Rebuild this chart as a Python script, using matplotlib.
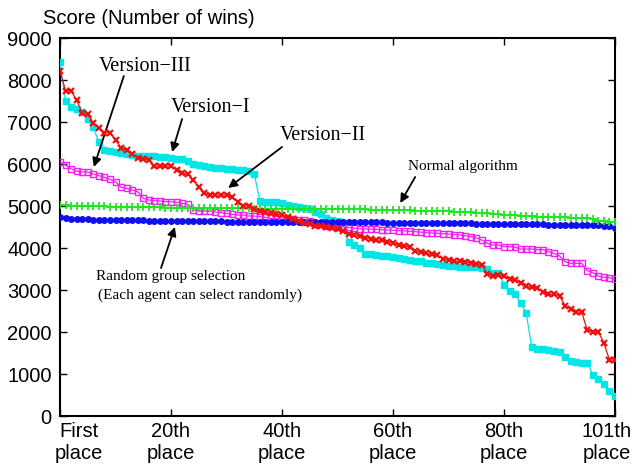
import matplotlib
matplotlib.use("Agg")
import matplotlib.pyplot as plt
import matplotlib.transforms as mtransforms

ranks = list(range(101))

version_1 = [8420, 7500, 7360, 7300, 7250, 7080, 6870, 6520, 6340, 6310,
             6290, 6260, 6230, 6210, 6200, 6195, 6190, 6180, 6170, 6160,
             6150, 6130, 6110, 6060, 6010, 5980, 5960, 5930, 5910, 5900,
             5890, 5875, 5865, 5855, 5830, 5760, 5130, 5100, 5100, 5090,
             5060, 5020, 4990, 4970, 4950, 4930, 4850, 4800, 4720, 4670,
             4640, 4600, 4150, 4060, 3990, 3850, 3850, 3840, 3820, 3810,
             3780, 3755, 3730, 3715, 3700, 3680, 3650, 3635, 3620, 3590,
             3575, 3565, 3556, 3550, 3548, 3545, 3516, 3490, 3400, 3397,
             3130, 2965, 2905, 2690, 2450, 1635, 1605, 1590, 1570, 1540,
             1515, 1410, 1318, 1285, 1270, 1270, 975, 880, 755, 590, 480]

version_2 = [8210, 7750, 7740, 7520, 7210, 7180, 6970, 6860, 6750, 6750,
             6570, 6390, 6330, 6230, 6150, 6110, 6095, 5950, 5950, 5950,
             5950, 5860, 5780, 5760, 5620, 5460, 5310, 5262, 5262, 5262,
             5262, 5206, 5103, 5010, 5000, 4930, 4880, 4850, 4825, 4800,
             4790, 4730, 4700, 4640, 4600, 4570, 4530, 4515, 4500, 4480,
             4460, 4400, 4340, 4310, 4290, 4250, 4210, 4190, 4185, 4150,
             4120, 4071, 4050, 4030, 3925, 3900, 3880, 3850, 3833, 3740,
             3720, 3690, 3680, 3670, 3651, 3630, 3600, 3390, 3340, 3349,
             3333, 3270, 3230, 3170, 3095, 3063, 3050, 2960, 2897, 2897,
             2860, 2630, 2550, 2475, 2475, 2048, 2000, 2000, 1740, 1333, 1333]

version_3 = [6056, 5976, 5881, 5833, 5810, 5810, 5762, 5722, 5683, 5635,
             5579, 5444, 5420, 5381, 5341, 5183, 5143, 5127, 5119, 5103,
             5103, 5087, 5063, 5048, 4905, 4889, 4881, 4873, 4857, 4841,
             4825, 4802, 4786, 4786, 4762, 4762, 4746, 4730, 4706, 4698,
             4690, 4683, 4683, 4667, 4667, 4643, 4603, 4560, 4530, 4515,
             4508, 4500, 4490, 4470, 4460, 4452, 4448, 4444, 4436, 4429,
             4420, 4413, 4408, 4400, 4389, 4377, 4365, 4357, 4349, 4340,
             4333, 4320, 4310, 4294, 4270, 4240, 4190, 4111, 4071, 4071,
             4032, 4032, 4016, 3976, 3976, 3976, 3960, 3960, 3913, 3873,
             3810, 3675, 3635, 3635, 3635, 3460, 3413, 3333, 3302, 3294, 3254]

normal_alg = [5030, 5020, 5010, 5005, 5000, 4998, 4995, 4993, 4990, 4988,
              4985, 4983, 4980, 4978, 4975, 4972, 4970, 4968, 4965, 4963,
              4960, 4958, 4957, 4956, 4955, 4953, 4952, 4950, 4949, 4948,
              4946, 4945, 4944, 4942, 4941, 4940, 4939, 4938, 4937, 4936,
              4935, 4933, 4932, 4931, 4930, 4929, 4928, 4927, 4926, 4925,
              4924, 4922, 4921, 4920, 4918, 4917, 4915, 4914, 4912, 4911,
              4910, 4905, 4900, 4895, 4892, 4890, 4888, 4885, 4882, 4878,
              4875, 4865, 4860, 4855, 4850, 4840, 4830, 4825, 4815, 4805,
              4795, 4785, 4775, 4765, 4760, 4755, 4750, 4745, 4740, 4735,
              4730, 4728, 4725, 4720, 4715, 4710, 4700, 4650, 4640, 4630, 4615]

random_sel = [4740, 4725, 4690, 4685, 4682, 4680, 4678, 4676, 4673, 4670,
              4668, 4665, 4662, 4660, 4657, 4655, 4652, 4650, 4648, 4645,
              4640, 4639, 4638, 4637, 4636, 4635, 4634, 4633, 4632, 4631,
              4630, 4629, 4628, 4627, 4626, 4625, 4624, 4623, 4622, 4621,
              4620, 4620, 4619, 4619, 4618, 4618, 4617, 4617, 4616, 4616,
              4615, 4615, 4614, 4614, 4613, 4612, 4610, 4609, 4608, 4606,
              4605, 4604, 4603, 4602, 4601, 4600, 4599, 4598, 4596, 4594,
              4592, 4590, 4588, 4586, 4584, 4582, 4581, 4580, 4578, 4576,
              4574, 4572, 4570, 4568, 4566, 4564, 4562, 4560, 4558, 4556,
              4555, 4553, 4551, 4549, 4547, 4545, 4542, 4539, 4535, 4530, 4470]

tick_pos = [0, 20, 40, 60, 80, 100]
tick_labels = ["First\nplace", "20th\nplace", "40th\nplace", "60th\nplace", "80th\nplace", "101th\nplace"]
y_ticks = [0, 1000, 2000, 3000, 4000, 5000, 6000, 7000, 8000, 9000]

SANS = "Liberation Sans"
SERIF = "Liberation Serif"

fig = plt.figure(figsize=(6.32, 4.71), dpi=100)
ax = fig.add_axes([60/632, 1 - 416/471, (615-60)/632, (416-38)/471])

ax.plot(ranks, version_1, color="#00E5E5", lw=0.9, marker="s", ms=4.3, mec="#00E5E5", mfc="#00E5E5", zorder=3)
ax.plot(ranks, version_3, color="#F020F0", lw=0.9, marker="s", ms=4.3, mfc="none", mec="#F020F0", mew=1.0, zorder=3)
ax.plot(ranks, random_sel, color="#1010F0", lw=0.9, marker="o", ms=4.0, mec="#1010F0", mfc="#1010F0", zorder=4)
ax.plot(ranks, normal_alg, color="#20E620", lw=0.9, marker="+", ms=5.5, mew=1.3, zorder=4)
ax.plot(ranks, version_2, color="#F01010", lw=0.9, marker="x", ms=3.8, mew=1.6, zorder=5)

ax.set_xlim(0, 100)
ax.set_ylim(0, 9000)
ax.set_xticks(tick_pos)
ax.set_xticklabels(tick_labels, fontfamily=SANS, fontsize=14.5, linespacing=1.25)
ax.set_yticks(y_ticks)
ax.set_yticklabels([str(v) for v in y_ticks], fontfamily=SANS, fontsize=14.5)
ax.tick_params(axis="both", direction="in", length=5, width=1, top=True, right=True, color="black")
ax.tick_params(axis="x", pad=4)
ax.tick_params(axis="y", pad=6)
for sp in ax.spines.values():
    sp.set_linewidth(1.5)

# shift edge tick labels like the original
labs = ax.get_xticklabels()
labs[0].set_transform(labs[0].get_transform() + mtransforms.ScaledTranslation(19/100, 0, fig.dpi_scale_trans))
labs[-1].set_transform(labs[-1].get_transform() + mtransforms.ScaledTranslation(-8/100, 0, fig.dpi_scale_trans))

fig.text(43/632, 1 - 18/471, "Score (Number of wins)", fontfamily=SANS, fontsize=14.5, ha="left", va="center")

arrow = dict(arrowstyle="-|>", color="black", lw=1.3, mutation_scale=13, shrinkA=0, shrinkB=0)

ax.text(15.3, 8310, "Version\u2212III", fontfamily=SERIF, fontsize=14.5, ha="center", va="center")
ax.annotate("", xy=(6.1, 5929), xytext=(11.5, 8095), arrowprops=arrow)

ax.text(27.2, 7357, "Version\u2212I", fontfamily=SERIF, fontsize=14.5, ha="center", va="center")
ax.annotate("", xy=(20.2, 6286), xytext=(22.0, 7071), arrowprops=arrow)

ax.text(47.4, 6690, "Version\u2212II", fontfamily=SERIF, fontsize=14.5, ha="center", va="center")
ax.annotate("", xy=(30.3, 5429), xytext=(40.0, 6405), arrowprops=arrow)

ax.text(72.6, 5929, "Normal algorithm", fontfamily=SERIF, fontsize=11, ha="center", va="center")
ax.annotate("", xy=(61.3, 5071), xytext=(64.0, 5690), arrowprops=arrow)

ax.text(6.5, 3310, "Random group selection", fontfamily=SERIF, fontsize=11, ha="left", va="center")
ax.text(6.9, 2881, "(Each agent can select randomly)", fontfamily=SERIF, fontsize=11, ha="left", va="center")
ax.annotate("", xy=(20.7, 4500), xytext=(18.2, 3524), arrowprops=arrow)

fig.savefig("out.png", dpi=100)
